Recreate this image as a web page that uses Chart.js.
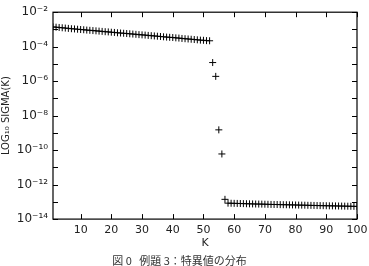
<!DOCTYPE html>
<html><head><meta charset="utf-8">
<script src="https://cdn.jsdelivr.net/npm/chart.js@4/dist/chart.umd.min.js"></script>
<style>html,body{margin:0;padding:0;background:#fff}#wrap{width:369px;height:266px}</style>
</head><body><div id="wrap"><canvas id="c" width="369" height="266"></canvas></div>
<script>
const kValues = Array.from({length: 100}, (_, i) => i + 1);
const sigmaHigh = [1.4e-3,1.35e-3,1.3e-3,1.25e-3,1.2e-3,1.15e-3,1.1e-3,1.07e-3,1.03e-3,9.9e-4,
  9.6e-4,9.2e-4,8.9e-4,8.6e-4,8.3e-4,8.0e-4,7.7e-4,7.4e-4,7.2e-4,6.9e-4,
  6.7e-4,6.4e-4,6.2e-4,6.0e-4,5.8e-4,5.6e-4,5.4e-4,5.2e-4,5.0e-4,4.85e-4,
  4.7e-4,4.5e-4,4.35e-4,4.2e-4,4.05e-4,3.9e-4,3.75e-4,3.6e-4,3.5e-4,3.4e-4,
  3.25e-4,3.15e-4,3.0e-4,2.9e-4,2.8e-4,2.7e-4,2.6e-4,2.5e-4,2.4e-4,2.35e-4,
  2.25e-4,2.2e-4];
const sigmaDrop = [1.2e-5,1.9e-6,1.5e-9,6e-11,1.4e-13];
const sigmaLow = [8.4e-14,8.3e-14,8.2e-14,8.1e-14,8.0e-14,7.9e-14,7.8e-14,7.7e-14,7.6e-14,7.5e-14,
  7.45e-14,7.4e-14,7.3e-14,7.2e-14,7.1e-14,7.05e-14,7.0e-14,6.9e-14,6.85e-14,6.8e-14,
  6.7e-14,6.65e-14,6.6e-14,6.5e-14,6.45e-14,6.4e-14,6.3e-14,6.25e-14,6.2e-14,6.1e-14,
  6.05e-14,6.0e-14,5.95e-14,5.9e-14,5.85e-14,5.8e-14,5.75e-14,5.7e-14,5.65e-14,5.6e-14,
  5.55e-14,5.5e-14,5.45e-14];
const sigmaValues = sigmaHigh.concat(sigmaDrop, sigmaLow);
const xTicks = [10,20,30,40,50,60,70,80,90,100];
const yExponents = [-2,-3,-4,-5,-6,-7,-8,-9,-10,-11,-12,-13,-14];
const yLabelExponents = [-2,-4,-6,-8,-10,-12,-14];
const supMap = {'-':'⁻','0':'⁰','1':'¹','2':'²','3':'³','4':'⁴','5':'⁵','6':'⁶','7':'⁷','8':'⁸','9':'⁹'};
const sup = s => String(s).split('').map(c => supMap[c]).join('');

const innerTicks = {
  id: 'innerTicks',
  afterDraw(chart) {
    const {ctx, chartArea: a, scales: {x, y}} = chart;
    ctx.save();
    ctx.strokeStyle = '#000';
    ctx.lineWidth = 1;
    ctx.beginPath();
    xTicks.forEach(v => {
      const px = Math.round(x.getPixelForValue(v)) + 0.5;
      ctx.moveTo(px, a.bottom); ctx.lineTo(px, a.bottom - 5);
      ctx.moveTo(px, a.top); ctx.lineTo(px, a.top + 5);
    });
    yExponents.forEach(e => {
      const py = Math.round(y.getPixelForValue(Math.pow(10, e))) + 0.5;
      ctx.moveTo(a.left, py); ctx.lineTo(a.left + 5, py);
      ctx.moveTo(a.right, py); ctx.lineTo(a.right - 5, py);
    });
    ctx.stroke();
    ctx.lineWidth = 1.2;
    ctx.strokeRect(a.left, a.top, a.right - a.left, a.bottom - a.top);
    ctx.restore();
  }
};

new Chart(document.getElementById('c'), {
  type: 'scatter',
  data: {
    datasets: [{
      data: kValues.map((k, i) => ({x: k, y: sigmaValues[i]})),
      pointStyle: 'cross',
      pointRadius: 3.5,
      borderColor: '#000',
      backgroundColor: '#000',
      borderWidth: 1,
      showLine: false
    }]
  },
  options: {
    responsive: false,
    animation: false,
    layout: {padding: {left: 0, top: 8, right: 0, bottom: 0}},
    plugins: {
      legend: {display: false},
      tooltip: {enabled: false},
      title: {
        display: true,
        position: 'bottom',
        text: '図 0   例題 3：特異値の分布    ',
        color: '#333',
        font: {family: "'Noto Sans CJK JP', 'DejaVu Sans'", size: 11, weight: 'normal', lineHeight: 0.9},
        padding: {top: 6, bottom: 0}
      }
    },
    scales: {
      x: {
        type: 'linear', min: 1, max: 100,
        afterBuildTicks: s => { s.ticks = xTicks.map(v => ({value: v})); },
        afterFit: s => { s.height = 31; s.paddingRight = 12; s.paddingLeft = 0; },
        grid: {display: false, drawTicks: false},
        border: {display: false},
        ticks: {color: '#222', font: {family: 'DejaVu Sans', size: 11}, padding: 4, maxRotation: 0},
        title: {display: true, text: 'K', color: '#222', font: {family: 'DejaVu Sans', size: 11}, padding: {top: 5, bottom: 0}}
      },
      y: {
        type: 'logarithmic', min: 1e-14, max: 1e-2,
        afterBuildTicks: s => { s.ticks = yLabelExponents.map(e => ({value: Math.pow(10, e)})); },
        afterFit: s => { s.width = 53; },
        grid: {display: false, drawTicks: false},
        border: {display: false},
        ticks: {
          color: '#222', font: {family: 'DejaVu Sans', size: 12}, padding: 5,
          callback: v => '10' + sup(Math.round(Math.log10(v)))
        },
        title: {display: true, text: 'LOG₁₀ SIGMA(K)', color: '#222', font: {family: 'DejaVu Sans', size: 10}, padding: {top: 0, bottom: 0}}
      }
    }
  },
  plugins: [innerTicks]
});
</script></body></html>
